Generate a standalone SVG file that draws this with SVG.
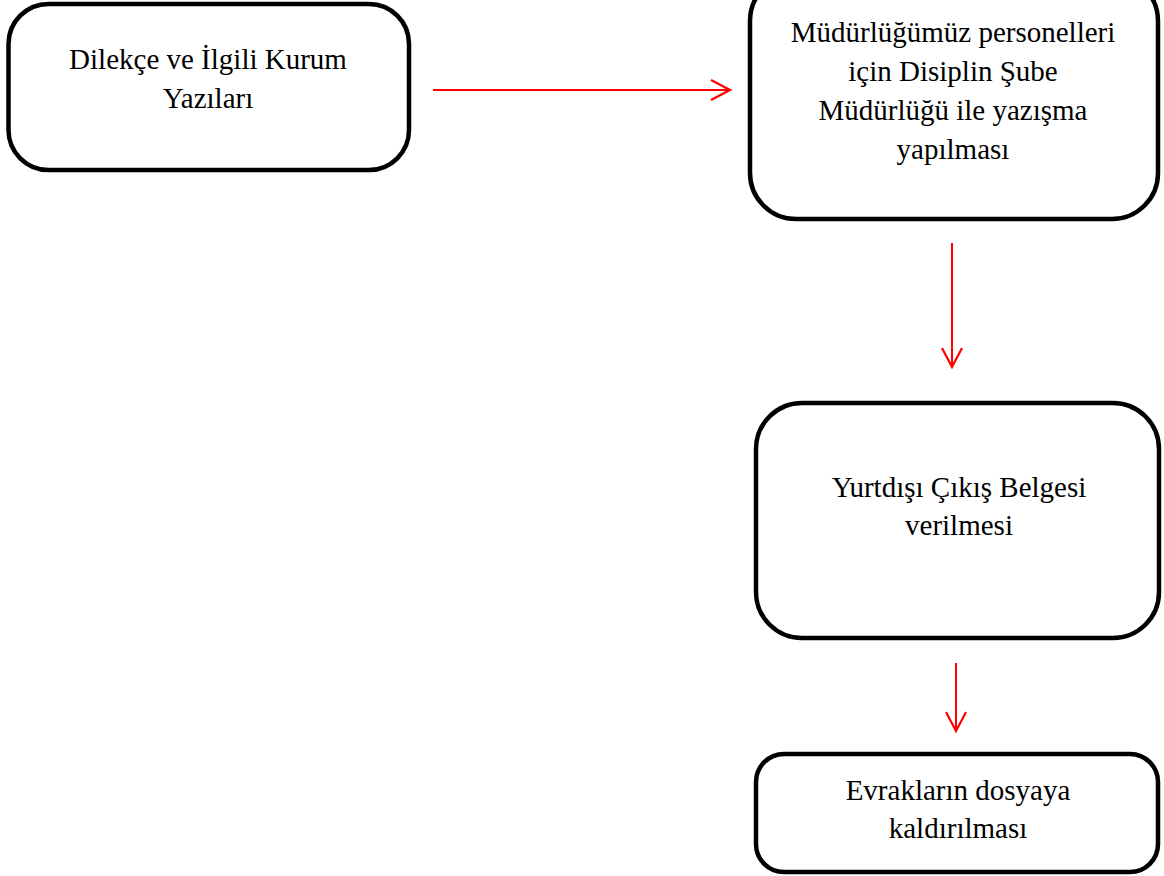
<svg xmlns="http://www.w3.org/2000/svg" width="1164" height="876" viewBox="0 0 1164 876">
  <style>
    .box { fill: #ffffff; stroke: #000000; stroke-width: 4.5; }
    .label { font-family: "Liberation Serif", "Times New Roman", serif; font-size: 29px; fill: #000000; text-anchor: middle; }
    .flow { fill: none; stroke: #ff0000; stroke-width: 2; }
  </style>
  <defs>
    <marker id="openArrow" markerUnits="userSpaceOnUse" markerWidth="24" markerHeight="24" viewBox="-22 -12 24 24" refX="0" refY="0" orient="auto">
      <path d="M-19,-10 L0,0 L-19,10" fill="none" stroke="#ff0000" stroke-width="2.2"/>
    </marker>
  </defs>

  <rect width="1164" height="876" fill="#ffffff"/>

  <g id="node-dilekce">
    <rect class="box" x="8.5" y="4" width="400.5" height="166" rx="40" ry="40"/>
    <text class="label" x="208" y="69">Dilekçe ve İlgili Kurum</text>
    <text class="label" x="208" y="108">Yazıları</text>
  </g>

  <g id="node-yazisma">
    <rect class="box" x="750" y="-25" width="408" height="244" rx="46" ry="46"/>
    <text class="label" x="953" y="42">Müdürlüğümüz personelleri</text>
    <text class="label" x="953" y="81">için Disiplin Şube</text>
    <text class="label" x="953" y="120">Müdürlüğü ile yazışma</text>
    <text class="label" x="953" y="159">yapılması</text>
  </g>

  <g id="node-belge">
    <rect class="box" x="756" y="403" width="403" height="235" rx="46" ry="46"/>
    <text class="label" x="959" y="497">Yurtdışı Çıkış Belgesi</text>
    <text class="label" x="959" y="535">verilmesi</text>
  </g>

  <g id="node-dosya">
    <rect class="box" x="756" y="754" width="402" height="118" rx="28" ry="28"/>
    <text class="label" x="958" y="800">Evrakların dosyaya</text>
    <text class="label" x="958" y="838">kaldırılması</text>
  </g>

  <g id="connectors">
    <line class="flow" x1="433" y1="90" x2="730" y2="90" marker-end="url(#openArrow)"/>
    <line class="flow" x1="952" y1="243" x2="952" y2="367" marker-end="url(#openArrow)"/>
    <line class="flow" x1="956" y1="663" x2="956" y2="731" marker-end="url(#openArrow)"/>
  </g>
</svg>
